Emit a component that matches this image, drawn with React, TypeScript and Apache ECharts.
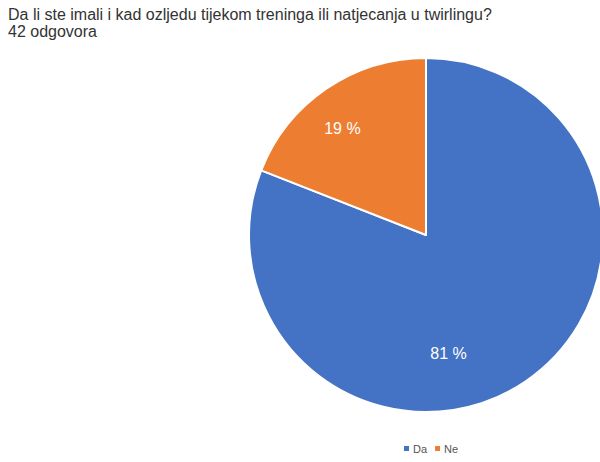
import React, { useEffect, useRef } from "react";
import * as echarts from "echarts";

const titleLine = "Da li ste imali i kad ozljedu tijekom treninga ili natjecanja u twirlingu?";
const subtitleLine = "42 odgovora";
const categories = ["Da", "Ne"];
const counts = [34, 8];
const colors = ["#4472C4", "#ED7D31"];
const labelShift = [
  [-29, 43],
  [-32, -31],
];

const FONT = "'Liberation Sans', Arial, sans-serif";

export default function App() {
  const ref = useRef<HTMLDivElement>(null);
  useEffect(() => {
    if (!ref.current) return;
    const chart = echarts.init(ref.current, undefined, { renderer: "svg" });
    chart.setOption({
      animation: false,
      backgroundColor: "#ffffff",
      title: {
        text: titleLine,
        subtext: subtitleLine,
        left: 3,
        top: 0,
        itemGap: 0,
        textStyle: { fontFamily: FONT, fontSize: 16, fontWeight: "normal", color: "#333333", lineHeight: 18 },
        subtextStyle: { fontFamily: FONT, fontSize: 16, color: "#333333", lineHeight: 16 },
      },
      legend: {
        data: categories,
        left: 397,
        top: 438,
        icon: "rect",
        itemWidth: 7,
        itemHeight: 7,
        itemGap: 6,
        textStyle: { fontFamily: FONT, fontSize: 11, color: "#555555", padding: [0, 0, 0, -2] },
      },
      series: [
        {
          type: "pie",
          center: [426, 235],
          radius: 177,
          startAngle: 90,
          clockwise: true,
          color: colors,
          itemStyle: { borderColor: "#ffffff", borderWidth: 2 },
          label: {
            show: true,
            position: "inside",
            formatter: (p: any) => Math.round(p.percent) + " %",
            fontFamily: FONT,
            fontSize: 16,
            fontWeight: 500,
            color: "#ffffff",
          },
          labelLine: { show: false },
          labelLayout: (p: any) => ({ dx: labelShift[p.dataIndex][0], dy: labelShift[p.dataIndex][1] }),
          emphasis: { disabled: true },
          data: categories.map((c, i) => ({ name: c, value: counts[i] })),
        },
      ],
    });
    return () => chart.dispose();
  }, []);
  return (
    <div
      ref={ref}
      style={{ position: "fixed", left: 0, top: 0, width: 600, height: 462 }}
    />
  );
}
